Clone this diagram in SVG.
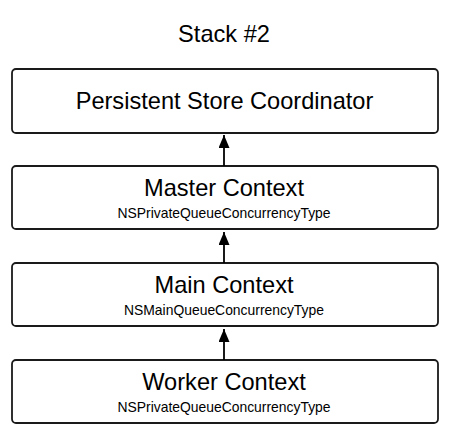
<svg xmlns="http://www.w3.org/2000/svg" width="461" height="434" viewBox="0 0 461 434">
<style>
.box{fill:#fff;stroke:#1a1a1a;stroke-width:1.8}
.t{font-family:"Liberation Sans",Arial,sans-serif;fill:#000;text-anchor:middle}
.big{font-size:23.6px}
.small{font-size:13.9px}
.edge{stroke:#000;stroke-width:1.8;fill:none}
</style>
<defs>
<marker id="ah" markerWidth="13" markerHeight="11" refX="13" refY="5.5" orient="auto" markerUnits="userSpaceOnUse" viewBox="0 0 13 11">
<path d="M0 0 L13 5.5 L0 11 Z" fill="#000"/>
</marker>
</defs>
<text class="t big" x="224" y="42">Stack #2</text>
<g id="psc">
<rect class="box" x="12" y="69" width="426" height="64" rx="4"/>
<text class="t big" x="224.5" y="109.3">Persistent Store Coordinator</text>
</g>
<g id="master">
<rect class="box" x="12" y="166" width="426" height="63" rx="4"/>
<text class="t big" x="224" y="195.7">Master Context</text>
<text class="t small" x="224" y="217.7">NSPrivateQueueConcurrencyType</text>
</g>
<g id="main">
<rect class="box" x="12" y="263" width="426" height="63" rx="4"/>
<text class="t big" x="224" y="292.7">Main Context</text>
<text class="t small" x="224" y="314.7">NSMainQueueConcurrencyType</text>
</g>
<g id="worker">
<rect class="box" x="12" y="360" width="426" height="63" rx="4"/>
<text class="t big" x="224" y="389.5">Worker Context</text>
<text class="t small" x="224" y="411.7">NSPrivateQueueConcurrencyType</text>
</g>
<g id="connectors">
<line class="edge" x1="224" y1="166" x2="224" y2="135" marker-end="url(#ah)"/>
<line class="edge" x1="224" y1="263" x2="224" y2="232" marker-end="url(#ah)"/>
<line class="edge" x1="224" y1="360" x2="224" y2="329" marker-end="url(#ah)"/>
</g>
</svg>
